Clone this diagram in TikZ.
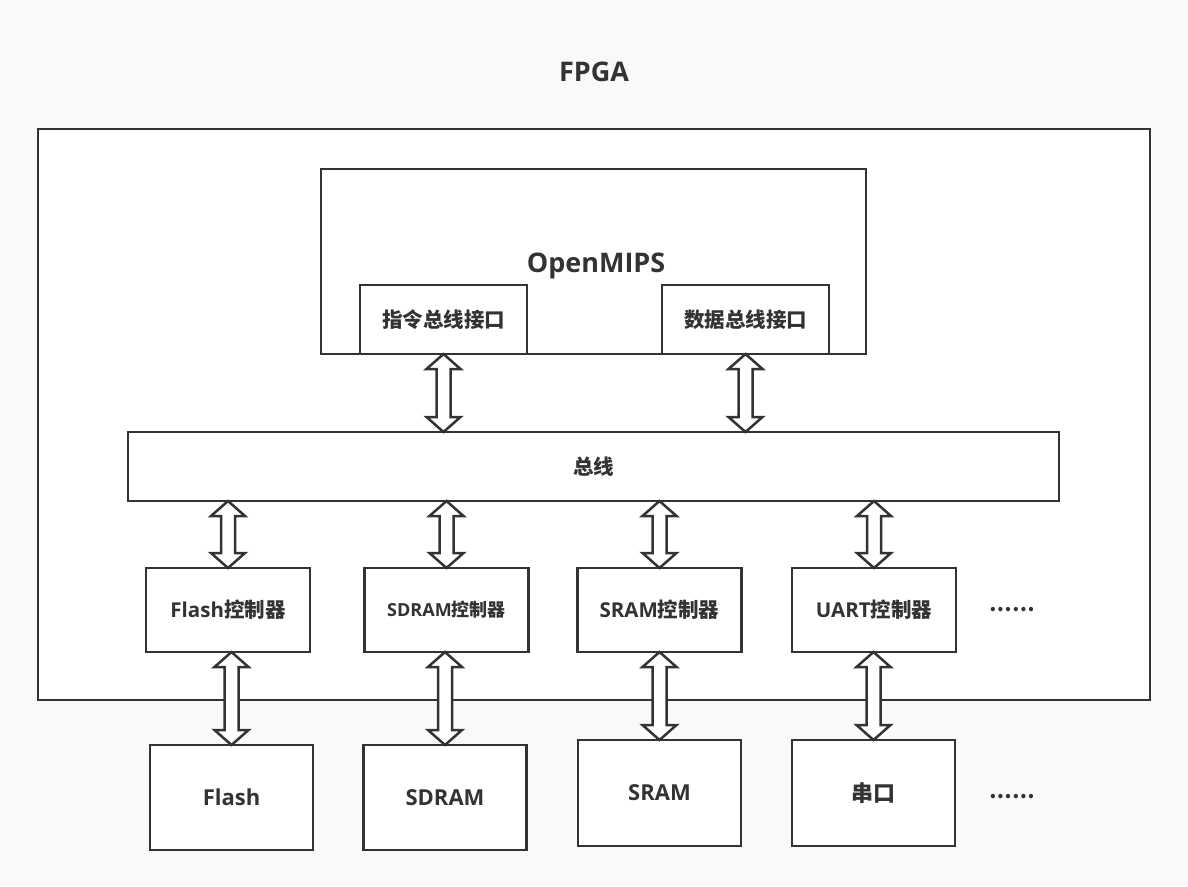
\documentclass[tikz,border=0pt]{standalone}
\usepackage{fontspec}
\setmainfont{Open Sans}
\newfontfamily\cjk{Noto Sans CJK SC}
\usetikzlibrary{calc}
\definecolor{linec}{HTML}{333333}
\definecolor{bgc}{HTML}{F9F9F9}

\begin{document}
\begin{tikzpicture}[x=1pt,y=-1pt,
    box/.style={draw=linec, line width=2.5pt, fill=white, inner sep=0pt, outer sep=0pt, text=linec,
      font=\bfseries\fontsize{20.5}{24}\selectfont},
    dev/.style={box, minimum width=163pt, minimum height=105pt, font=\bfseries\fontsize{22}{26}\selectfont},
    ctrl/.style={box, minimum width=164pt, minimum height=84pt},
    title/.style={text=linec, font=\bfseries\fontsize{27}{32}\selectfont},
    dblarrow/.style={draw=linec, line width=2.5pt, fill=white, line join=miter,
      to path={let \p1=(\tikztostart), \p2=(\tikztotarget) in
        -- (\x1+17pt,\y1-15pt) -- (\x1+7pt,\y1-15pt) -- (\x1+7pt,\y2+15pt) -- (\x1+17pt,\y2+15pt)
        -- (\x1,\y2) -- (\x1-17pt,\y2+15pt) -- (\x1-7pt,\y2+15pt) -- (\x1-7pt,\y1-15pt)
        -- (\x1-17pt,\y1-15pt) -- cycle}}]
  \fill[bgc] (0,0) rectangle (1188,886);

  % FPGA
  \node[title] (fpgalabel) at (594,72) {FPGA};
  \node[box, minimum width=1112pt, minimum height=571pt] (fpga) at (594,414.5) {};

  % OpenMIPS
  \node[box, minimum width=545pt, minimum height=185pt] (cpu) at (593.5,261.5) {};
  \node[title] (cpulabel) at (596,266) {OpenMIPS};
  \node[box, minimum width=167pt, minimum height=69pt] (ibus) at (443.5,319.5) {{\cjk 指令总线接口}};
  \node[box, minimum width=167pt, minimum height=69pt] (dbus) at (745.5,319.5) {{\cjk 数据总线接口}};

  % bus
  \node[box, minimum width=931pt, minimum height=69pt] (bus) at (593.5,466.5) {{\cjk 总线}};

  % controllers
  \node[ctrl] (flashc) at (228,610) {Flash{\cjk 控制器}};
  \node[ctrl, font=\bfseries\fontsize{18}{22}\selectfont] (sdramc) at (446.5,610) {SDRAM{\cjk 控制器}};
  \node[ctrl] (sramc) at (659.5,610) {SRAM{\cjk 控制器}};
  \node[ctrl] (uartc) at (874,610) {UART{\cjk 控制器}};
  \node[text=linec, font=\bfseries\fontsize{20}{24}\selectfont] (morec) at (1012,610) {{\cjk ……}};

  % devices
  \node[dev] (flash) at (231.5,797.5) {Flash};
  \node[dev] (sdram) at (445,797.5) {SDRAM};
  \node[dev, minimum height=106pt] (sram) at (659.5,793) {SRAM};
  \node[dev, minimum height=106pt] (uart) at (873.5,793) {{\cjk 串口}};
  \node[text=linec, font=\bfseries\fontsize{20}{24}\selectfont] (moredev) at (1012,797) {{\cjk ……}};

  % arrows
  \draw[dblarrow] (ibus.south) to (ibus.south |- bus.north);
  \draw[dblarrow] (dbus.south) to (dbus.south |- bus.north);
  \foreach \c in {flashc,sdramc,sramc,uartc}
    \draw[dblarrow] (\c.north |- bus.south) to (\c.north);
  \draw[dblarrow] (flashc.south -| flash.north) to (flash.north);
  \draw[dblarrow] (sdramc.south -| sdram.north) to (sdram.north);
  \draw[dblarrow] (sramc.south -| sram.north) to (sram.north);
  \draw[dblarrow] (uartc.south -| uart.north) to (uart.north);
\end{tikzpicture}
\end{document}
